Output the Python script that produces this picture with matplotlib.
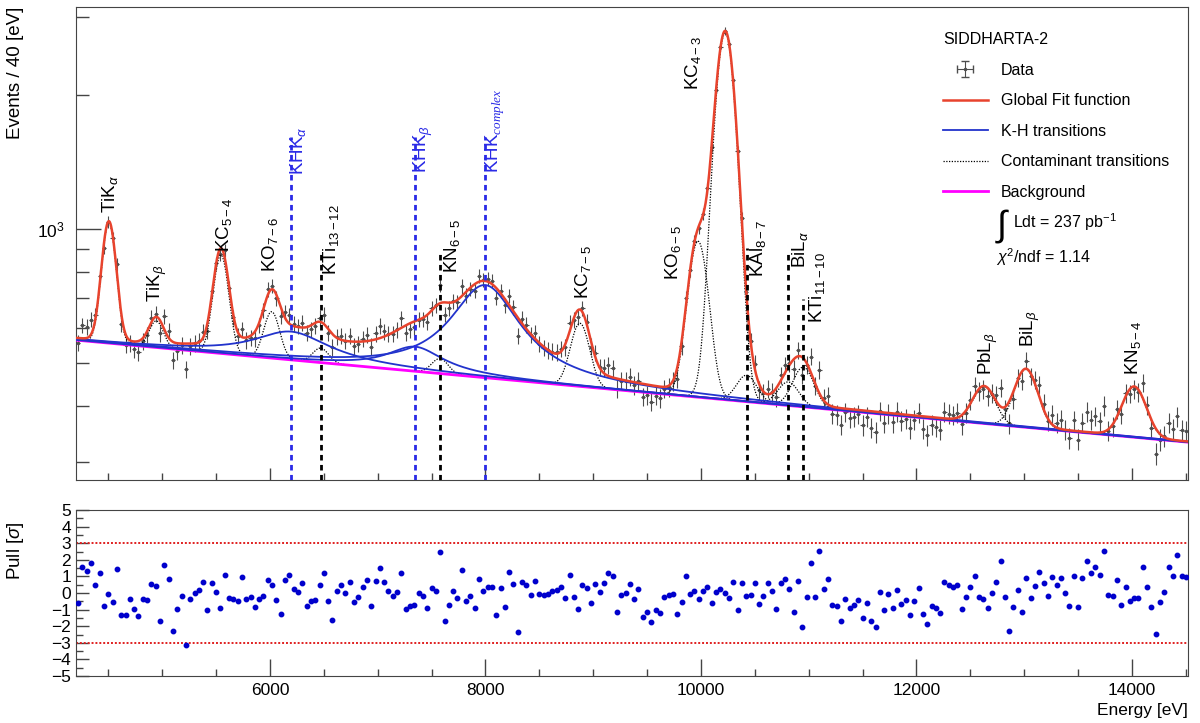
import numpy as np
import matplotlib
matplotlib.use("Agg")
import matplotlib.pyplot as plt
from matplotlib.ticker import FixedLocator, FixedFormatter, NullFormatter, MultipleLocator
from matplotlib.lines import Line2D

plt.rcParams['font.family'] = ['Liberation Sans', 'DejaVu Sans']
plt.rcParams['mathtext.fontset'] = 'custom'
plt.rcParams['mathtext.rm'] = 'Liberation Sans'
plt.rcParams['mathtext.it'] = 'Liberation Sans:italic'
plt.rcParams['mathtext.bf'] = 'Liberation Sans:bold'
plt.rcParams['mathtext.sf'] = 'Liberation Serif:italic'

# binning: 40 eV bins
e_min, e_max, bin_w = 4200, 14520, 40

# background (value at both ends of the range)
bg_start, bg_end = 563.0, 332.0

# contaminant lines (gaussians above background)
cont_E = [4505, 4945, 5545, 6016, 6471, 7578, 8877, 9973, 10225, 10424, 10811, 10950, 12627, 13016, 14020]
cont_amp = [479, 80, 349, 139, 39, 38, 171, 520, 2350, 60, 52, 91, 76, 125, 101]
cont_sig = [62, 64, 67, 70, 72, 76, 84, 90, 92, 92, 95, 95, 102, 104, 108]

# kaonic hydrogen lines (broad, lorentzian-like)
kh_E = [6195, 7346, 7996]
kh_amp = [80, 65, 285]
kh_gam = [420, 310, 360]

# pulls, one per bin
pulls = [
    -0.62, 1.58, 1.34, 1.83, 0.46, 1.18, -0.76, -0.09, -0.55, 1.42,
    -1.34, -1.34, -0.35, -0.98, -1.38, -0.37, -0.41, 0.54, 0.41, -1.69,
    1.69, 0.86, -2.27, -0.98, -0.19, -3.12, -0.35, 0.01, 0.19, 0.68,
    -1.00, 0.58, 0.09, -0.92, 1.10, -0.29, -0.35, -0.51, 0.96, -0.35,
    -0.25, -0.84, -0.35, -0.21, 0.76, 0.48, -0.45, -1.24, 0.76, 1.08,
    0.27, 0.09, 0.58, -0.76, -0.51, -0.43, 0.48, 1.20, -0.47, -1.63,
    0.13, 0.48, 0.01, 0.64, -0.55, -0.25, 0.36, 0.76, -0.76, 0.74,
    1.49, 0.64, 0.13, -0.17, 0.09, 1.18, -0.94, -0.80, -0.72, 0.03,
    -0.17, -0.92, 0.32, 0.15, 2.46, -1.66, -0.72, 0.13, -0.29, 1.36,
    -0.51, -0.17, -0.92, 0.84, 0.15, 0.34, 0.38, -1.34, 0.29, -0.82,
    1.28, 0.56, -2.33, 0.64, 0.50, -0.13, 0.74, -0.09, -0.13, -0.05,
    0.11, 0.19, 0.34, -0.33, 1.10, -0.25, -0.98, 0.48, 0.32, -0.62,
    0.52, 0.07, 0.60, 1.20, 1.00, -1.14, -0.11, -0.03, 0.52, -0.35,
    0.27, -1.42, -1.14, -1.77, -1.04, -1.22, -0.23, -0.15, -0.05, -1.28,
    -0.55, 1.04, -0.09, 0.11, -0.37, 0.15, 0.34, -0.59, 0.07, 0.27,
    0.03, -0.29, 0.68, -1.00, 0.60, -0.19, -0.11, 0.58, -0.64, -0.19,
    0.58, 0.11, -0.98, 0.60, 0.82, 0.27, -1.12, 0.74, -2.05, -0.23,
    1.79, -0.23, 2.56, 0.23, 0.86, -0.72, -0.78, -1.71, -0.37, -0.90,
    -0.72, -0.45, -1.52, -0.58, -1.66, -2.07, 0.07, -1.04, -0.05, -0.92,
    0.19, -0.64, -0.41, -1.32, -0.47, 0.29, -1.24, -1.87, -0.78, -0.92,
    -1.18, 0.64, 0.46, 0.34, 0.46, -0.94, -0.23, 0.34, 1.00, -0.25,
    -0.37, -0.92, 0.01, 0.64, 1.95, -0.23, -2.29, -0.86, 0.21, -1.12,
    0.92, -0.33, 0.40, 1.26, 0.60, -0.21, 0.96, 0.46, 0.92, 0.03,
    -0.78, 1.00, -0.82, 0.88, 1.95, 1.20, 1.58, 1.08, 2.52, -0.13,
    -0.19, 0.76, -0.72, 0.38, -0.51, -0.33, -0.29, 1.58, 0.38, -0.82,
    -2.47, -0.55, 0.09, 1.56, 1.00, 2.27, 1.02, 0.94,
]

# labels: text, energy, bottom of text (counts), colour
lab_txt = [r'TiK$_\alpha$', r'TiK$_\beta$', r'KC$_{5-4}$', r'KO$_{7-6}$', r'KHK$_\alpha$',
           r'KTi$_{13-12}$', r'KHK$_\beta$', r'KN$_{6-5}$', r'KHK$_{\mathsf{complex}}$',
           r'KC$_{7-5}$', r'KO$_{6-5}$', r'KC$_{4-3}$', r'KAl$_{8-7}$', r'BiL$_\alpha$',
           r'KTi$_{11-10}$', r'PbL$_\beta$', r'BiL$_\beta$', r'KN$_{5-4}$']
lab_E = [4515, 4952, 5573, 6000, 6260, 6567, 7423, 7687, 8089,
         8906, 9740, 9926, 10529, 10919, 11074, 12664, 13054, 14010]
lab_y = [1086, 685, 888, 802, 1322, 788, 1336, 796, 1336,
         696, 768, 2053, 781, 817, 615, 470, 544, 470]
lab_blue = [False, False, False, False, True, False, True, False, True,
            False, False, False, False, False, False, False, False, False]

# vertical marker lines: energy, top (counts), colour
vl_E = [6195, 6471, 7346, 7578, 7996, 10424, 10811, 10950]
vl_top = [1610, 897, 1610, 897, 1610, 906, 897, 696]
vl_blue = [True, False, True, False, True, False, False, False]


def background(E):
    return bg_start * (bg_end / bg_start) ** ((E - e_min) / (e_max - e_min))


def gauss(E, mu, amp, sig):
    return amp * np.exp(-0.5 * ((E - mu) / sig) ** 2)


def lorentz(E, mu, amp, gam):
    return amp / (1 + ((E - mu) / gam) ** 2)


def total(E):
    y = background(E)
    for mu, a, s in zip(cont_E, cont_amp, cont_sig):
        y = y + gauss(E, mu, a, s)
    for mu, a, g in zip(kh_E, kh_amp, kh_gam):
        y = y + lorentz(E, mu, a, g)
    return y


RED = '#e8432d'
BLUE = '#2233cc'
LBLUE = '#2a2ae6'
GRAY = '#4d4d4d'

fig = plt.figure(figsize=(12, 7.23), dpi=100)
ax = fig.add_axes([76 / 1200, 1 - 480 / 723, 1112 / 1200, 473 / 723])
axp = fig.add_axes([76 / 1200, 1 - 676 / 723, 1112 / 1200, 166 / 723])

# data from model + pulls
centers = e_min + bin_w / 2 + bin_w * np.arange(len(pulls))
p = np.array(pulls)
m = total(centers)
data = ((p + np.sqrt(p ** 2 + 4 * m)) / 2) ** 2
err = np.sqrt(data)

Ef = np.linspace(e_min, e_max, 4000)

ax.errorbar(centers, data, yerr=err, xerr=bin_w / 2, fmt='o', ms=1.5, color=GRAY,
            elinewidth=0.8, capsize=0, zorder=2)

for mu, a, s in zip(cont_E, cont_amp, cont_sig):
    sel = np.abs(Ef - mu) < 4 * s
    ax.plot(Ef[sel], background(Ef[sel]) + gauss(Ef[sel], mu, a, s), color='black',
            ls=(0, (1, 1.2)), lw=0.9, zorder=3)
for mu, a, g in zip(kh_E, kh_amp, kh_gam):
    ax.plot(Ef, background(Ef) + lorentz(Ef, mu, a, g), color=BLUE, lw=1.3, zorder=4)
ax.plot(Ef, background(Ef), color='#ff00ff', lw=2, zorder=3.5)
ax.plot(Ef, total(Ef), color=RED, lw=1.8, zorder=5)

for e, top, b in zip(vl_E, vl_top, vl_blue):
    ax.plot([e, e], [200, top], color=LBLUE if b else 'black', lw=2,
            ls=(0, (2, 1.6)), zorder=6)

for t, e, yb, b in zip(lab_txt, lab_E, lab_y, lab_blue):
    ax.text(e, yb, t, rotation=90, ha='center', va='bottom', fontsize=13.5,
            color=LBLUE if b else 'black', zorder=7)

ax.set_yscale('log')
ax.set_xlim(e_min, e_max)
ax.set_ylim(273, 3155)
ax.yaxis.set_major_locator(FixedLocator([1000]))
ax.yaxis.set_major_formatter(FixedFormatter([r'$10^{3}$']))
ax.yaxis.set_minor_locator(FixedLocator([300, 400, 500, 600, 700, 800, 900, 2000, 3000]))
ax.yaxis.set_minor_formatter(NullFormatter())
ax.xaxis.set_major_locator(MultipleLocator(2000))
ax.xaxis.set_minor_locator(MultipleLocator(500))
ax.tick_params(axis='y', which='major', direction='in', length=18, width=1, labelsize=12.5,
               pad=8, colors='#444444', labelcolor='black')
ax.tick_params(axis='y', which='minor', direction='in', length=9, width=1, colors='#444444')
ax.tick_params(axis='x', which='major', direction='in', length=9, width=1, labelbottom=False, colors='#444444')
ax.tick_params(axis='x', which='minor', direction='in', length=5, width=1, colors='#444444')
for s in ax.spines.values():
    s.set_color('#444444')

# legend
h_data = ax.errorbar([np.nan], [np.nan], xerr=[1], yerr=[1], fmt='o', ms=1.5, color=GRAY,
                     elinewidth=0.8, capsize=3)
handles = [h_data,
           Line2D([], [], color=RED, lw=1.8),
           Line2D([], [], color=BLUE, lw=1.3),
           Line2D([], [], color='black', ls=(0, (1, 1.2)), lw=0.9),
           Line2D([], [], color='#ff00ff', lw=2)]
labels = ['Data', 'Global Fit function', 'K-H transitions', 'Contaminant transitions', 'Background']
leg = ax.legend(handles, labels, title='SIDDHARTA-2', loc='upper left',
                bbox_to_anchor=(0.774, 0.96), frameon=False, fontsize=11.5,
                title_fontsize=11.5, alignment='left', labelspacing=0.97,
                handlelength=2.8, handletextpad=0.8, borderaxespad=0)

fig.text(1003 / 1200, 1 - 226 / 723, r'$\int$', fontsize=26, ha='center', va='center')
fig.text(1013 / 1200, 1 - 222 / 723, r'Ldt = 237 pb$^{\mathregular{-1}}$', fontsize=11.5, ha='left', va='center')
fig.text(996 / 1200, 1 - 257 / 723, r'$\chi^{2}$/ndf = 1.14', fontsize=11.5, ha='left', va='center')

# pull panel
axp.plot(centers, p, 'o', ms=3.2, color='#0000cc', zorder=3)
axp.axhline(3, color='#e02020', ls=(0, (1, 1)), lw=1.4)
axp.axhline(-3, color='#e02020', ls=(0, (1, 1)), lw=1.4)
axp.set_xlim(e_min, e_max)
axp.set_ylim(-5, 5)
axp.yaxis.set_major_locator(MultipleLocator(1))
axp.yaxis.set_minor_locator(MultipleLocator(0.5))
axp.xaxis.set_major_locator(MultipleLocator(2000))
axp.xaxis.set_minor_locator(MultipleLocator(500))
axp.tick_params(axis='both', which='major', direction='in', length=9, width=1, labelsize=12.5,
                colors='#444444', labelcolor='black')
axp.tick_params(axis='both', which='minor', direction='in', length=5, width=1, colors='#444444')
axp.tick_params(axis='x', which='major', length=12, pad=5)
for s in axp.spines.values():
    s.set_color('#444444')

fig.text(16 / 1200, 1 - 7 / 723, 'Events / 40 [eV]', rotation=90, ha='center', va='top', fontsize=13.5)
fig.text(16 / 1200, 1 - 521 / 723, r'Pull [$\sigma$]', rotation=90, ha='center', va='top', fontsize=13.5)
fig.text(1188 / 1200, 1 - 710 / 723, 'Energy [eV]', ha='right', va='center', fontsize=12.5)

fig.savefig('out.png', dpi=100)
